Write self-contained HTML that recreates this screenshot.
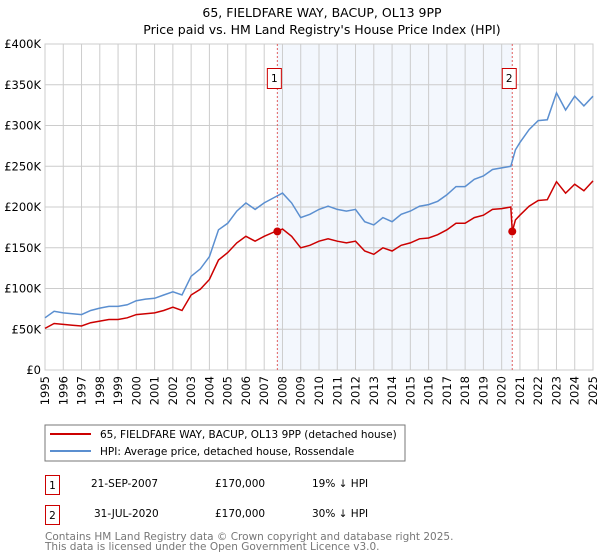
<!DOCTYPE html>
<html><head><meta charset="utf-8"><style>
body{margin:0;background:#fff;font-family:"DejaVu Sans","Liberation Sans",sans-serif;position:relative;width:600px;height:560px;overflow:hidden;}
svg{position:absolute;left:0;top:0;}
svg text{font-family:"DejaVu Sans","Liberation Sans",sans-serif;}
.xl{position:absolute;font-size:11.5px;line-height:12px;white-space:nowrap;writing-mode:vertical-rl;writing-mode:sideways-lr;}
</style></head><body>
<svg id="chart" width="600" height="560" xmlns="http://www.w3.org/2000/svg">
<text x="322" y="17" font-size="12.5" text-anchor="middle" fill="#000">65, FIELDFARE WAY, BACUP, OL13 9PP</text>
<text x="322" y="34" font-size="12.5" text-anchor="middle" fill="#000">Price paid vs. HM Land Registry's House Price Index (HPI)</text>
<g id="grid"></g>
<g id="marks"></g>
<rect x="45" y="425" width="360" height="36" fill="#fff" stroke="#777"/>
<line x1="50" y1="434" x2="91" y2="434" stroke="#cc0000" stroke-width="2"/>
<text x="100" y="438" font-size="10.5">65, FIELDFARE WAY, BACUP, OL13 9PP (detached house)</text>
<line x1="50" y1="451" x2="91" y2="451" stroke="#5b8fd0" stroke-width="2"/>
<text x="100" y="455" font-size="10.5">HPI: Average price, detached house, Rossendale</text>
<rect x="45.5" y="475.5" width="14" height="19" fill="#fff" stroke="#cc0000"/>
<text x="52.5" y="489" font-size="10.5" text-anchor="middle">1</text>
<text x="91" y="487" font-size="10.5">21-SEP-2007</text>
<text x="215" y="487" font-size="10.5">£170,000</text>
<text x="312" y="487" font-size="10.5">19% ↓ HPI</text>
<rect x="45.5" y="505.5" width="14" height="19" fill="#fff" stroke="#cc0000"/>
<text x="52.5" y="519" font-size="10.5" text-anchor="middle">2</text>
<text x="94" y="517" font-size="10.5">31-JUL-2020</text>
<text x="215" y="517" font-size="10.5">£170,000</text>
<text x="312" y="517" font-size="10.5">30% ↓ HPI</text>
<text x="45" y="540" font-size="10.5" fill="#777">Contains HM Land Registry data © Crown copyright and database right 2025.</text>
<text x="45" y="550" font-size="10.5" fill="#777">This data is licensed under the Open Government Licence v3.0.</text>
</svg>
<div id="xlabels"></div>
<script>
const hpiYears=[1995,1995.5,1996,1996.5,1997,1997.5,1998,1998.5,1999,1999.5,2000,2000.5,2001,2001.5,2002,2002.5,2003,2003.5,2004,2004.5,2005,2005.5,2006,2006.5,2007,2007.5,2008,2008.5,2009,2009.5,2010,2010.5,2011,2011.5,2012,2012.5,2013,2013.5,2014,2014.5,2015,2015.5,2016,2016.5,2017,2017.5,2018,2018.5,2019,2019.5,2020,2020.5,2020.75,2021,2021.5,2022,2022.5,2023,2023.5,2024,2024.5,2025];
const hpiValues=[64,72,70,69,68,73,76,78,78,80,85,87,88,92,96,92,115,124,139,172,180,195,205,197,205,211,217,205,187,191,197,201,197,195,197,182,178,187,182,191,195,201,203,207,215,225,225,234,238,246,248,250,270,279,295,306,307,340,319,336,324,336];
const priceYears=[1995,1995.5,1996,1996.5,1997,1997.5,1998,1998.5,1999,1999.5,2000,2000.5,2001,2001.5,2002,2002.5,2003,2003.5,2004,2004.5,2005,2005.5,2006,2006.5,2007,2007.5,2007.72,2008,2008.5,2009,2009.5,2010,2010.5,2011,2011.5,2012,2012.5,2013,2013.5,2014,2014.5,2015,2015.5,2016,2016.5,2017,2017.5,2018,2018.5,2019,2019.5,2020,2020.5,2020.58,2020.75,2021,2021.5,2022,2022.5,2023,2023.5,2024,2024.5,2025];
const priceValues=[51,57,56,55,54,58,60,62,62,64,68,69,70,73,77,73,92,99,111,135,144,156,164,158,164,169,170,173,164,150,153,158,161,158,156,158,146,142,150,146,153,156,161,162,166,172,180,180,187,190,197,198,200,170,184,190,201,208,209,231,217,228,220,232];
const saleYears=[2007.72,2020.58];
const saleValues=[170,170];
const saleLabels=["1","2"];
const yTicks=[0,50,100,150,200,250,300,350,400];
const yTickLabels=["£0","£50K","£100K","£150K","£200K","£250K","£300K","£350K","£400K"];
const xTicks=[1995,1996,1997,1998,1999,2000,2001,2002,2003,2004,2005,2006,2007,2008,2009,2010,2011,2012,2013,2014,2015,2016,2017,2018,2019,2020,2021,2022,2023,2024,2025];

const X0=45,X1=593,Y0=370,Y1=44;
const xs=y=>X0+(y-1995)/30*(X1-X0);
const ys=v=>Y0-v/400*(Y0-Y1);
const NS="http://www.w3.org/2000/svg";
const grid=document.getElementById('grid'),marks=document.getElementById('marks');
const xlab=document.getElementById('xlabels');
function mk(tag,attrs,parent){const e=document.createElementNS(NS,tag);for(const k in attrs)e.setAttribute(k,attrs[k]);parent.appendChild(e);return e;}
const shade=mk('rect',{x:xs(saleYears[0]),y:Y1,width:xs(saleYears[1])-xs(saleYears[0]),height:Y0-Y1,fill:'#eef3fc',opacity:0.7},grid);


yTicks.forEach((t,i)=>{
  const l=mk('line',{x1:X0,x2:X1,y1:ys(t),y2:ys(t),stroke:'#ccc'},grid);
  
  
  const tx=mk('text',{x:X0-4,y:ys(t)+4,'font-size':11.5,'text-anchor':'end'},grid);
  tx.textContent=yTickLabels[i];
  
  
});
xTicks.forEach(t=>{
  const l=mk('line',{x1:xs(t),x2:xs(t),y1:Y1,y2:Y0,stroke:'#ccc'},grid);
  
  
  const d=document.createElement('div');
  d.className='xl';
  d.textContent=t;
  d.style.left=(xs(t)-6)+'px';
  d.style.top=(Y0+6)+'px';
  
  
  xlab.appendChild(d);
});
const frame=mk('rect',{x:X0,y:Y1,width:X1-X0,height:Y0-Y1,fill:'none',stroke:'#ccc'},grid);


saleYears.forEach((y,i)=>{
  const l=mk('line',{x1:xs(y),x2:xs(y),y1:Y1,y2:Y0,stroke:'#e06060','stroke-dasharray':'2,2'},marks);
  
  
});
const pts=(xa,va)=>xa.map((y,i)=>xs(y).toFixed(1)+','+ys(va[i]).toFixed(1)).join(' ');
const hpi=mk('polyline',{points:pts(hpiYears,hpiValues),fill:'none',stroke:'#5b8fd0','stroke-width':1.5},marks);


const pr=mk('polyline',{points:pts(priceYears,priceValues),fill:'none',stroke:'#cc0000','stroke-width':1.5},marks);


saleYears.forEach((y,i)=>{
  const c=mk('circle',{cx:xs(y),cy:ys(saleValues[i]),r:4,fill:'#cc0000'},marks);
  
  
  const bx=xs(y)-3;
  const r=mk('rect',{x:bx-7,y:68.5,width:14,height:20,fill:'#fff',stroke:'#cc0000'},marks);
  
  
  const t=mk('text',{x:bx,y:82,'font-size':10.5,'text-anchor':'middle'},marks);
  t.textContent=saleLabels[i];
  
  
});
</script>
</body></html>
